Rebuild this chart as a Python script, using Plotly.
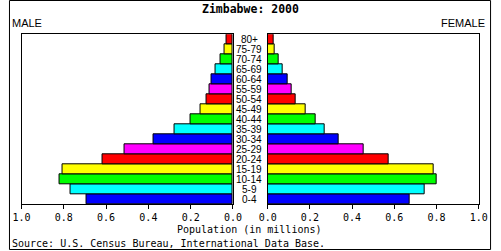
import plotly.graph_objects as go

W, H = 501, 251

ages = ["0-4", "5-9", "10-14", "15-19", "20-24", "25-29", "30-34", "35-39",
        "40-44", "45-49", "50-54", "55-59", "60-64", "65-69", "70-74", "75-79", "80+"]
male = [0.694, 0.767, 0.822, 0.808, 0.616, 0.511, 0.374, 0.274,
        0.201, 0.155, 0.123, 0.110, 0.100, 0.082, 0.059, 0.041, 0.032]
female = [0.673, 0.744, 0.799, 0.785, 0.575, 0.457, 0.335, 0.269,
          0.228, 0.178, 0.132, 0.114, 0.097, 0.073, 0.050, 0.032, 0.027]
palette = ["#0000ff", "#00ffff", "#00ff00", "#ffff00", "#ff0000", "#ff00ff"]
tick_vals = [0.0, 0.2, 0.4, 0.6, 0.8, 1.0]
tick_text = ["0.0", "0.2", "0.4", "0.6", "0.8", "1.0"]

colors = [palette[i % len(palette)] for i in range(len(ages))]

def px(x):
    return x / W

def py(y):
    return 1 - y / H

mono = "DejaVu Sans Mono"
narrow = "Liberation Sans Narrow, Arial Narrow, Liberation Sans, Arial"

fig = go.Figure()
fig.add_trace(go.Bar(y=ages, x=male, orientation="h", xaxis="x", yaxis="y",
                     marker=dict(color=colors, line=dict(color="black", width=1)),
                     showlegend=False, hoverinfo="x+y"))
fig.add_trace(go.Bar(y=ages, x=female, orientation="h", xaxis="x2", yaxis="y2",
                     marker=dict(color=colors, line=dict(color="black", width=1)),
                     showlegend=False, hoverinfo="x+y"))

axis_common = dict(showline=True, linecolor="black", linewidth=1, mirror=True,
                   showgrid=False, zeroline=False, ticks="outside", ticklen=4,
                   tickcolor="black", tickvals=tick_vals, ticktext=tick_text,
                   tickfont=dict(family=mono, size=10, color="black"), fixedrange=True)

fig.update_layout(
    width=W, height=H,
    margin=dict(l=0, r=0, t=0, b=0),
    paper_bgcolor="white", plot_bgcolor="white",
    bargap=0,
    xaxis=dict(domain=[px(13), px(232.3)], range=[1, 0], anchor="y", **axis_common),
    xaxis2=dict(domain=[px(268.3), px(487.3)], range=[0, 1], anchor="y2", **axis_common),
    yaxis=dict(domain=[py(204), py(34.3)], range=[-0.5, 16.5], anchor="x",
               showticklabels=False, showline=True, linecolor="black", mirror=True,
               showgrid=False, zeroline=False, ticks="", fixedrange=True),
    yaxis2=dict(domain=[py(204), py(34.3)], range=[-0.5, 16.5], anchor="x2", matches="y",
                showticklabels=False, showline=True, linecolor="black", mirror=True,
                showgrid=False, zeroline=False, ticks="", fixedrange=True),
)

ann = []
ann.append(dict(text="<b>Zimbabwe: 2000</b>", x=0.5, y=py(9), xref="paper", yref="paper",
                showarrow=False, font=dict(family=mono, size=11.5, color="black"),
                xanchor="center", yanchor="middle"))
ann.append(dict(text="MALE", x=px(1.5), y=py(22.5), xref="paper", yref="paper",
                showarrow=False, font=dict(family=narrow, size=11, color="black"),
                xanchor="left", yanchor="middle"))
ann.append(dict(text="FEMALE", x=px(496), y=py(22.5), xref="paper", yref="paper",
                showarrow=False, font=dict(family=narrow, size=11, color="black"),
                xanchor="right", yanchor="middle"))
ann.append(dict(text="Population (in millions)", x=px(249.5), y=py(229), xref="paper", yref="paper",
                showarrow=False, font=dict(family=mono, size=10, color="black"),
                xanchor="center", yanchor="middle"))
ann.append(dict(text="Source: U.S. Census Bureau, International Data Base.", x=px(1.5), y=py(243),
                xref="paper", yref="paper", showarrow=False,
                font=dict(family=mono, size=10, color="black"), xanchor="left", yanchor="middle"))
for a in ages:
    ann.append(dict(text=a, x=px(249), y=a, xref="paper", yref="y", showarrow=False,
                    font=dict(family=narrow, size=10, color="black"),
                    xanchor="center", yanchor="middle"))
fig.update_layout(annotations=ann)

fig.add_shape(type="rect", xref="paper", yref="paper",
              x0=0.5 / W, x1=499.5 / W, y0=1 - 249.5 / H, y1=1 - 0.5 / H,
              line=dict(color="black", width=1), fillcolor="rgba(0,0,0,0)")

fig.write_html("out.html")
